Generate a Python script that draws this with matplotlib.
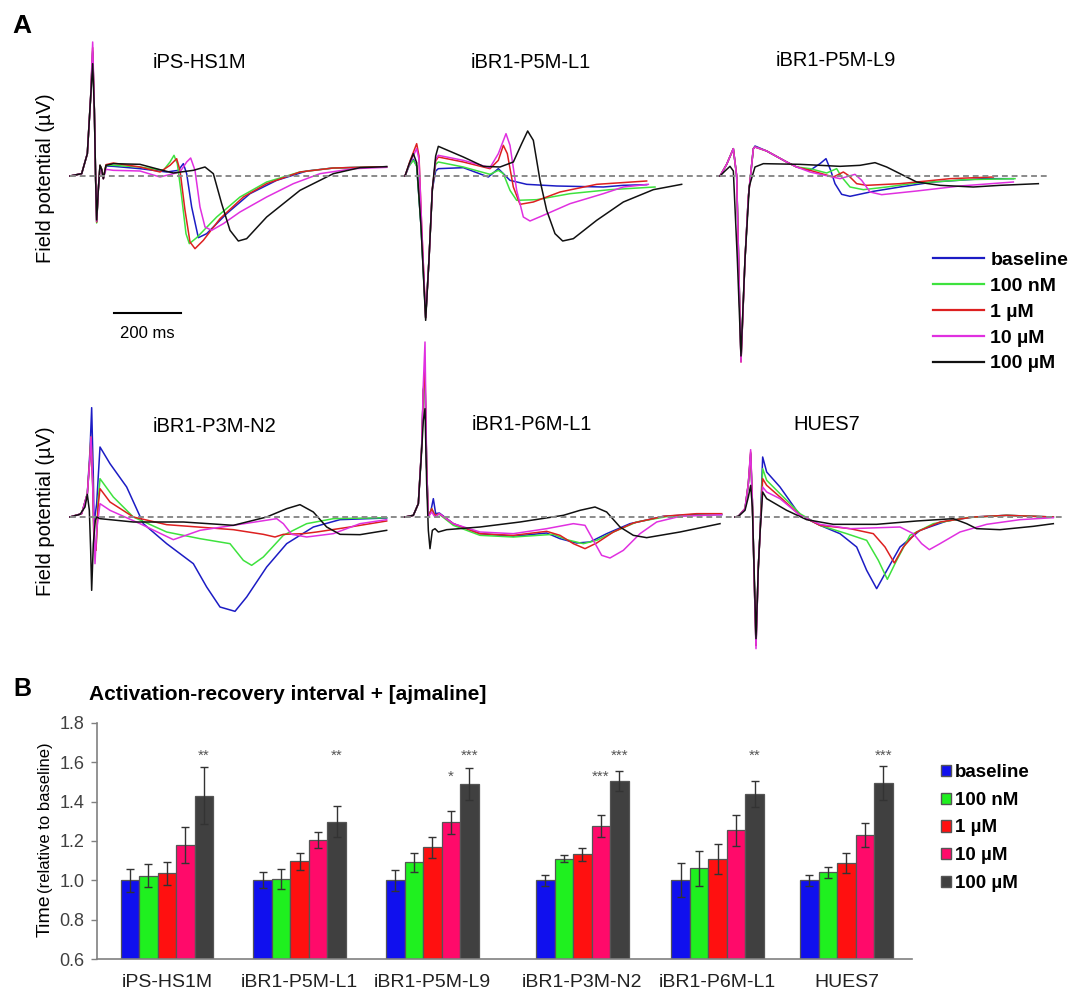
import numpy as np
import matplotlib
matplotlib.use('Agg')
import matplotlib.pyplot as plt
from matplotlib.lines import Line2D
from matplotlib.patches import Patch

plt.rcParams['font.family'] = ['Liberation Sans', 'DejaVu Sans']

# ---- data -------------------------------------------------------------
conditions = ['baseline', '100 nM', '1 µM', '10 µM', '100 µM']
trace_colors = ['#1c1cc4', '#3ee23e', '#dd2020', '#e030e0', '#111111']

# field potential traces, (time ms, amplitude µV)
hs1m = {
    'baseline': [(0, 0), (35, 7), (52, 67), (62, 237), (68, 370), (73, 200), (77, -13), (80, -138), (85, -40), (90, 32), (95, 20), (100, -8), (108, 30), (130, 29), (210, 22), (290, 12), (325, 17), (340, 37), (350, 7), (365, -93), (385, -185), (410, -173), (470, -113), (540, -53), (620, -13), (710, 15), (790, 24), (950, 28)],
    '100 nM': [(0, 0), (35, 7), (52, 67), (62, 237), (68, 375), (73, 200), (77, -13), (80, -141), (85, -40), (90, 32), (95, 20), (100, -8), (108, 32), (130, 32), (210, 27), (280, 17), (300, 42), (312, 62), (322, 37), (335, -63), (348, -173), (358, -203), (380, -185), (440, -123), (510, -63), (590, -18), (690, 12), (790, 24), (950, 28)],
    '1 µM': [(0, 0), (35, 7), (52, 67), (62, 237), (68, 385), (73, 200), (77, -13), (80, -138), (85, -40), (90, 32), (95, 20), (100, -8), (108, 34), (130, 39), (210, 27), (270, 12), (300, 32), (320, 52), (330, 17), (345, -103), (360, -198), (375, -218), (400, -193), (450, -128), (520, -63), (590, -23), (690, 12), (790, 24), (950, 28)],
    '10 µM': [(0, 0), (35, 7), (52, 67), (62, 237), (68, 402), (73, 200), (77, -13), (80, -135), (85, -40), (90, 25), (95, 15), (100, -8), (108, 20), (130, 17), (210, 15), (270, -3), (330, 12), (350, 42), (362, 54), (375, 17), (390, -93), (405, -153), (425, -163), (460, -143), (510, -108), (590, -63), (670, -23), (750, 7), (850, 22), (950, 26)],
    '100 µM': [(0, 0), (35, 7), (52, 67), (62, 237), (68, 337), (73, 200), (77, -13), (80, -132), (85, -40), (90, 32), (95, 20), (100, -8), (108, 32), (130, 37), (210, 35), (270, 19), (310, 9), (370, 17), (405, 27), (430, 7), (455, -83), (480, -163), (505, -195), (530, -188), (590, -123), (690, -43), (790, 7), (870, 25), (950, 28)],
}
p5m_l1 = {
    'baseline': [(0, 0), (12, 30), (25, 50), (35, 30), (48, -150), (62, -425), (72, -250), (82, -40), (92, 15), (100, 22), (175, 25), (250, -3), (280, 22), (295, 7), (315, -13), (365, -25), (455, -30), (595, -33), (655, -28), (725, -26)],
    '100 nM': [(0, 0), (12, 30), (25, 47), (35, 30), (48, -150), (62, -425), (72, -250), (82, -40), (92, 35), (100, 42), (175, 27), (255, 5), (280, 17), (295, 7), (315, -43), (335, -73), (395, -71), (495, -53), (615, -41), (750, -33)],
    '1 µM': [(0, 0), (15, 45), (35, 97), (42, 60), (50, -150), (62, -425), (72, -250), (82, -40), (92, 45), (100, 57), (175, 42), (255, 22), (280, 47), (295, 92), (307, 67), (325, -33), (345, -85), (385, -78), (465, -48), (575, -25), (725, -15)],
    '10 µM': [(0, 0), (15, 40), (35, 82), (42, 50), (50, -150), (62, -425), (72, -250), (82, -40), (92, 50), (100, 62), (175, 47), (255, 25), (280, 67), (303, 127), (315, 92), (335, -43), (355, -123), (375, -135), (415, -118), (495, -83), (595, -53), (655, -33), (730, -25)],
    '100 µM': [(0, 0), (12, 35), (25, 67), (35, 40), (48, -150), (62, -433), (72, -250), (82, -40), (92, 60), (100, 89), (175, 57), (235, 29), (285, 27), (325, 42), (350, 97), (368, 135), (385, 107), (405, -13), (425, -103), (450, -173), (473, -195), (505, -188), (575, -133), (655, -78), (745, -41), (830, -25)],
}
p5m_l9 = {
    'baseline': [(0, 0), (20, 35), (40, 82), (50, 0), (63, -555), (75, -250), (85, -63), (100, 82), (105, 90), (140, 75), (200, 42), (230, 27), (270, 17), (300, 37), (318, 52), (332, 17), (345, -23), (365, -55), (390, -61), (460, -46), (540, -33), (640, -18), (790, -8), (880, -8)],
    '100 nM': [(0, 0), (20, 35), (40, 82), (50, 0), (63, -555), (75, -250), (85, -63), (100, 82), (105, 87), (140, 75), (200, 42), (230, 27), (270, 22), (320, 9), (350, 22), (365, -3), (390, -33), (430, -41), (500, -33), (590, -21), (740, -11), (885, -8)],
    '1 µM': [(0, 0), (20, 35), (40, 82), (50, 0), (63, -558), (75, -250), (85, -63), (100, 82), (105, 87), (140, 75), (200, 42), (230, 27), (270, 17), (340, -3), (370, 12), (385, 2), (410, -23), (440, -28), (540, -23), (690, -8), (820, -3)],
    '10 µM': [(0, 0), (20, 35), (40, 82), (50, 0), (63, -558), (75, -250), (85, -63), (100, 82), (105, 87), (140, 75), (200, 42), (230, 27), (270, 12), (360, -8), (405, 5), (425, -13), (450, -48), (485, -56), (590, -45), (720, -30), (880, -18)],
    '100 µM': [(0, 0), (15, 15), (30, 29), (40, 15), (52, -250), (63, -540), (75, -250), (88, -30), (105, 27), (130, 37), (240, 35), (360, 29), (420, 32), (465, 40), (500, 27), (540, 7), (590, -18), (660, -28), (760, -33), (840, -28), (955, -23)],
}
p3m_n2 = {
    'baseline': [(0, 0), (35, 10), (52, 70), (60, 200), (65, 328), (70, 120), (72, -20), (80, 40), (90, 210), (120, 160), (170, 90), (220, -20), (290, -80), (370, -140), (410, -210), (450, -270), (495, -283), (530, -240), (590, -150), (650, -80), (730, -30), (810, -8), (950, -3)],
    '100 nM': [(0, 0), (35, 10), (52, 70), (60, 180), (63, 240), (68, 100), (72, -80), (78, -100), (84, 40), (90, 115), (130, 60), (190, 0), (290, -45), (390, -65), (480, -80), (520, -130), (545, -145), (580, -120), (640, -55), (710, -20), (790, -5), (950, -2)],
    '1 µM': [(0, 0), (35, 10), (52, 70), (60, 180), (63, 240), (68, 100), (72, -80), (78, -100), (84, 30), (90, 85), (120, 45), (190, 0), (290, -23), (490, -38), (580, -52), (615, -60), (640, -52), (700, -50), (740, -45), (840, -30), (950, -12)],
    '10 µM': [(0, 0), (35, 10), (52, 70), (60, 180), (63, 240), (68, 100), (75, -140), (80, -40), (90, 40), (120, 20), (210, -20), (310, -68), (390, -40), (490, -25), (620, -5), (640, -20), (665, -52), (710, -60), (790, -50), (870, -20), (950, -8)],
    '100 µM': [(0, 0), (30, 8), (45, 30), (52, 68), (58, 20), (62, -100), (65, -220), (70, -80), (76, -10), (80, 0), (90, -5), (190, -15), (340, -15), (490, -25), (590, 0), (650, 25), (690, 37), (730, 15), (770, -30), (810, -52), (870, -53), (950, -40)],
}
p6m_l1 = {
    'baseline': [(0, 0), (25, 5), (40, 40), (50, 210), (55, 380), (60, 410), (65, 150), (70, 0), (78, 20), (85, 55), (92, 10), (103, 12), (145, -20), (225, -50), (325, -58), (425, -48), (465, -65), (515, -78), (555, -75), (605, -50), (675, -20), (775, 2), (875, 8), (950, 7)],
    '100 nM': [(0, 0), (25, 5), (40, 40), (50, 210), (55, 380), (60, 410), (65, 150), (70, 0), (80, 25), (90, 5), (103, 8), (145, -25), (225, -55), (325, -60), (445, -52), (485, -68), (535, -80), (575, -70), (625, -45), (695, -15), (790, 2), (950, 8)],
    '1 µM': [(0, 0), (25, 5), (40, 40), (50, 210), (55, 380), (60, 440), (65, 150), (70, 0), (80, 25), (90, 5), (103, 10), (145, -20), (225, -50), (325, -55), (425, -43), (465, -55), (505, -80), (540, -95), (575, -78), (625, -45), (685, -18), (775, 2), (875, 10), (950, 10)],
    '10 µM': [(0, 0), (25, 5), (40, 40), (50, 210), (55, 400), (60, 525), (65, 150), (70, 0), (80, 15), (90, 0), (103, 10), (145, -20), (225, -45), (325, -50), (425, -35), (505, -20), (540, -25), (565, -70), (590, -115), (615, -123), (655, -100), (705, -50), (755, -15), (825, 2), (950, 7)],
    '100 µM': [(0, 0), (25, 5), (40, 40), (50, 200), (55, 290), (60, 325), (65, 100), (70, -40), (75, -95), (82, -40), (90, -35), (100, -45), (125, -38), (225, -30), (345, -15), (475, 5), (525, 20), (570, 30), (605, 15), (645, -30), (685, -55), (725, -62), (825, -45), (945, -20)],
}
hues7 = {
    'baseline': [(0, 0), (10, 2), (30, 25), (40, 100), (47, 190), (52, 50), (58, -200), (63, -385), (70, -150), (75, -50), (83, 180), (95, 135), (135, 90), (195, 5), (255, -25), (315, -50), (365, -90), (395, -160), (425, -215), (450, -170), (495, -90), (555, -40), (635, -12), (715, 0), (815, 5), (955, 0)],
    '100 nM': [(0, 0), (10, 2), (30, 25), (40, 100), (47, 180), (52, 50), (58, -200), (63, -385), (70, -150), (75, -50), (83, 145), (95, 110), (135, 70), (195, 10), (255, -25), (335, -50), (395, -70), (430, -130), (457, -187), (485, -130), (525, -55), (595, -20), (695, -2), (815, 5), (955, 0)],
    '1 µM': [(0, 0), (10, 2), (30, 25), (40, 100), (47, 195), (52, 50), (58, -200), (63, -385), (70, -150), (75, -50), (83, 115), (95, 95), (135, 60), (195, 5), (255, -25), (345, -35), (415, -50), (450, -90), (478, -138), (505, -90), (545, -45), (615, -15), (715, 0), (815, 5), (955, 0)],
    '10 µM': [(0, 0), (10, 2), (30, 25), (40, 100), (47, 202), (52, 50), (58, -200), (63, -395), (70, -150), (75, -50), (83, 90), (95, 75), (135, 55), (195, 5), (255, -22), (345, -35), (495, -30), (535, -50), (560, -80), (583, -98), (615, -80), (675, -45), (755, -22), (855, -8), (955, -2)],
    '100 µM': [(0, 0), (10, 2), (30, 20), (40, 60), (47, 95), (52, 30), (58, -180), (63, -365), (70, -150), (75, -50), (83, 75), (95, 55), (155, 20), (215, -8), (295, -22), (425, -22), (545, -12), (655, -5), (695, -20), (725, -35), (795, -38), (895, -28), (955, -20)],
}

# panel B: activation-recovery interval relative to baseline
cell_lines = ['iPS-HS1M', 'iBR1-P5M-L1', 'iBR1-P5M-L9', 'iBR1-P3M-N2', 'iBR1-P6M-L1', 'HUES7']
ari_baseline = [1.00, 1.00, 1.00, 1.00, 1.00, 1.00]
ari_100nM = [1.023, 1.006, 1.091, 1.110, 1.061, 1.041]
ari_1uM = [1.035, 1.098, 1.169, 1.132, 1.110, 1.088]
ari_10uM = [1.180, 1.205, 1.295, 1.276, 1.254, 1.228]
ari_100uM = [1.431, 1.299, 1.491, 1.506, 1.438, 1.495]
err_baseline = [0.060, 0.040, 0.055, 0.027, 0.087, 0.027]
err_100nM = [0.058, 0.050, 0.050, 0.018, 0.088, 0.029]
err_1uM = [0.060, 0.043, 0.053, 0.034, 0.077, 0.050]
err_10uM = [0.090, 0.040, 0.058, 0.055, 0.077, 0.061]
err_100uM = [0.147, 0.080, 0.080, 0.050, 0.065, 0.087]
stars_10uM = ['', '', '*', '***', '', '']
stars_100uM = ['**', '**', '***', '***', '**', '***']
bar_colors = ['#1010ee', '#1ff01f', '#ff1010', '#ff0a6a', '#404040']

# ---- layout -------------------------------------------------------------
W, H = 1073, 992
MS_PER_PX = 3.0
UV_PER_PX = 3.0


def px_rect(x0, y0, x1, y1):
    return [x0 / W, 1 - y1 / H, (x1 - x0) / W, (y1 - y0) / H]


fig = plt.figure(figsize=(W / 100, H / 100), dpi=100)

# (data, title, x0, x1, y0, y1, baseline y, title centre)
panels = [
    (hs1m, 'iPS-HS1M', 70, 405, 35, 370, 176, (199, 62)),
    (p5m_l1, 'iBR1-P5M-L1', 405, 720, 35, 370, 176, (531, 62)),
    (p5m_l9, 'iBR1-P5M-L9', 720, 1047, 35, 370, 176, (836, 60)),
    (p3m_n2, 'iBR1-P3M-N2', 70, 405, 335, 655, 517, (215, 426)),
    (p6m_l1, 'iBR1-P6M-L1', 405, 735, 335, 655, 517, (532, 425)),
    (hues7, 'HUES7', 735, 1063, 335, 655, 517, (827, 425)),
]

axes_a = []
for data, title, x0, x1, y0, y1, base, (tx, ty) in panels:
    ax = fig.add_axes(px_rect(x0, y0, x1, y1))
    ax.set_xlim(0, (x1 - x0) * MS_PER_PX)
    ax.set_ylim((base - y1) * UV_PER_PX, (base - y0) * UV_PER_PX)
    ax.axis('off')
    for cond, col in zip(conditions, trace_colors):
        t, v = zip(*data[cond])
        ax.plot(t, v, color=col, lw=1.1, clip_on=False, solid_joinstyle='round')
    ax.axhline(0, color='#8a8a8a', lw=1.4, ls=(0, (3, 2)), zorder=5)
    fig.text(tx / W, 1 - ty / H, title, ha='center', va='center', fontsize=14.5)
    axes_a.append(ax)

# scale bar in the first panel
ax0 = axes_a[0]
ax0.plot([132, 332], [-411, -411], color='black', lw=1.5, clip_on=False)
fig.text(147 / W, 1 - 333 / H, '200 ms', ha='center', va='center', fontsize=12)

for yc in (178, 511):
    fig.text(46 / W, 1 - yc / H, 'Field potential (µV)', rotation=90,
             ha='center', va='center', fontsize=14.5)

handles = [Line2D([], [], color=c, lw=1.6) for c in trace_colors]
fig.legend(handles, conditions, loc='center left', bbox_to_anchor=(933 / W, 1 - 312 / H),
           frameon=False, prop={'weight': 'bold', 'size': 14}, handlelength=2.6,
           handletextpad=0.35, labelspacing=0.42, borderpad=0, borderaxespad=0)

fig.text(12 / W, 1 - 26 / H, 'A', fontsize=19, fontweight='bold', va='center')
fig.text(13 / W, 1 - 689 / H, 'B', fontsize=18, fontweight='bold', va='center')

# ---- panel B ------------------------------------------------------------
axb = fig.add_axes(px_rect(97, 723, 912, 959))
group_x = np.array([0, 1, 2, 3.13, 4.15, 5.12])
bw = 18.5 / 132.7
means = [ari_baseline, ari_100nM, ari_1uM, ari_10uM, ari_100uM]
errs = [err_baseline, err_100nM, err_1uM, err_10uM, err_100uM]
for i, (m, e, c) in enumerate(zip(means, errs, bar_colors)):
    axb.bar(group_x + (i - 2) * bw, m, bw, yerr=e, color=c, edgecolor='#555555', linewidth=0.9,
            capsize=3, error_kw=dict(ecolor='#333333', elinewidth=1, capthick=1), label=conditions[i])

for gx, s in zip(group_x, stars_10uM):
    if s:
        axb.text(gx + bw, 1.525, s, ha='center', va='center', fontsize=11, color='#555555')
for gx, s in zip(group_x, stars_100uM):
    if s:
        axb.text(gx + 2 * bw, 1.635, s, ha='center', va='center', fontsize=11, color='#555555')

axb.set_xlim(-0.527, 5.614)
axb.set_ylim(0.6, 1.8)
axb.set_yticks(np.arange(0.6, 1.81, 0.2))
axb.set_yticklabels(['%.1f' % v for v in np.arange(0.6, 1.81, 0.2)])
axb.set_xticks(group_x)
axb.set_xticklabels(cell_lines)
axb.tick_params(axis='x', length=0, pad=11, labelsize=14, labelcolor='#222222')
axb.tick_params(axis='y', length=4, width=1, color='#808080', pad=5, labelsize=13, labelcolor='#404040')
for side in ('top', 'right'):
    axb.spines[side].set_visible(False)
for side in ('left', 'bottom'):
    axb.spines[side].set_color('#808080')
    axb.spines[side].set_linewidth(1.2)

fig.text(89 / W, 1 - 695 / H, 'Activation-recovery interval + [ajmaline]', fontsize=15,
         fontweight='bold', ha='left', va='center')
fig.text(50 / W, 1 - 937 / H, 'Time', rotation=90, rotation_mode='anchor',
         ha='left', va='baseline', fontsize=14)
fig.text(50 / W, 1 - 893 / H, '(relative to baseline)', rotation=90, rotation_mode='anchor',
         ha='left', va='baseline', fontsize=12)

hb = [Patch(facecolor=c, edgecolor='#555555', linewidth=1) for c in bar_colors]
fig.legend(hb, conditions, loc='center left', bbox_to_anchor=(941 / W, 1 - 828 / H),
           frameon=False, prop={'weight': 'bold', 'size': 13.5}, handlelength=0.55,
           handleheight=0.55, handletextpad=0.2, labelspacing=0.57, borderpad=0, borderaxespad=0)

fig.savefig('out.png', dpi=100)
